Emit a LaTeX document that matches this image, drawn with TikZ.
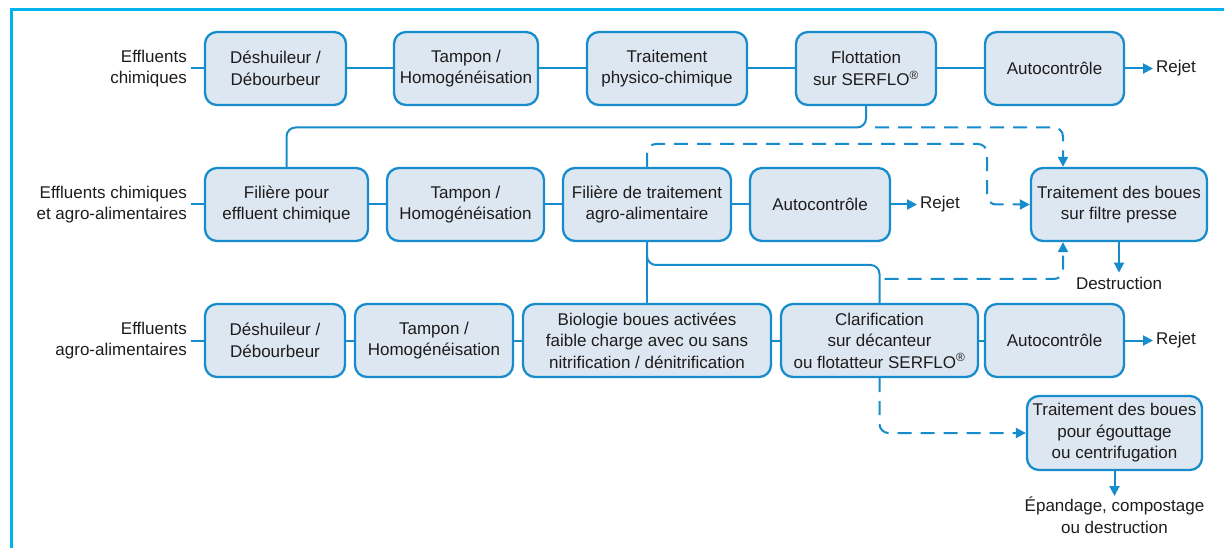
\documentclass[tikz,border=0pt]{standalone}
\usepackage{fontspec}
\setmainfont{Liberation Sans}
\usepackage{tikz}
\usepackage{xcolor}
\usetikzlibrary{arrows.meta}
\definecolor{cadre}{RGB}{0,178,235}
\definecolor{trait}{RGB}{22,140,205}
\definecolor{fond}{RGB}{221,231,241}
\definecolor{texte}{RGB}{30,28,28}
\tikzset{
etape/.style={draw=trait,fill=fond,line width=2.3pt,rounded corners=12pt,
  align=center,minimum height=73pt,inner sep=2pt,text=texte},
lien/.style={draw=trait,line width=2pt,rounded corners=9pt},
fleche/.style={lien,-{Triangle[length=10pt,width=10pt]}},
pointille/.style={fleche,dash pattern=on 14pt off 9pt},
entree/.style={text=texte,align=right,anchor=east,inner sep=4pt},
sortie/.style={text=texte,align=center,inner sep=3pt}}

\begin{document}
\begin{tikzpicture}[x=1pt,y=-1pt,font=\fontsize{17}{21.5}\selectfont]
\useasboundingbox (0,0) rectangle (1224,548);
\draw[cadre,line width=3pt] (1224,9.5)--(11,9.5)--(11,548);

\node[entree] (e1) at (191,68.5) {Effluents\\chimiques};
\node[etape,minimum width=141pt] (d1) at (275.5,68.5) {Déshuileur /\\Débourbeur};
\node[etape,minimum width=144pt] (t1) at (466,68.5) {Tampon /\\Homogénéisation};
\node[etape,minimum width=160pt] (p1) at (667,68.5) {Traitement\\physico-chimique};
\node[etape,minimum width=140pt] (f1) at (866,68.5) {Flottation\\sur SERFLO\textsuperscript{®}};
\node[etape,minimum width=139pt] (a1) at (1054.5,68.5) {Autocontrôle};
\node[sortie,anchor=west] (r1) at (1153,68.5) {Rejet};

\node[entree] (e2) at (191,204.5) {Effluents chimiques\\et agro-alimentaires};
\node[etape,minimum width=163pt] (fc2) at (286.5,204.5) {Filière pour\\effluent chimique};
\node[etape,minimum width=157pt] (t2) at (465.5,204.5) {Tampon /\\Homogénéisation};
\node[etape,minimum width=168pt] (fa2) at (647,204.5) {Filière de traitement\\agro-alimentaire};
\node[etape,minimum width=140pt] (a2) at (820,204.5) {Autocontrôle};
\node[sortie,anchor=west] (r2) at (917,204.5) {Rejet};
\node[etape,minimum width=176pt] (fp) at (1119,204.5) {Traitement des boues\\sur filtre presse};
\node[sortie,inner sep=4pt] (destr) at (1119,283) {Destruction};

\node[entree] (e3) at (191,340.5) {Effluents\\agro-alimentaires};
\node[etape,minimum width=140pt] (d3) at (275,340.5) {Déshuileur /\\Débourbeur};
\node[etape,minimum width=158pt] (t3) at (434,340.5) {Tampon /\\Homogénéisation};
\node[etape,minimum width=248pt] (b3) at (647,340.5) {Biologie boues activées\\faible charge avec ou sans\\nitrification / dénitrification};
\node[etape,minimum width=197pt] (c3) at (879.5,340.5) {Clarification\\sur décanteur\\ou flotatteur SERFLO\textsuperscript{®}};
\node[etape,minimum width=139pt] (a3) at (1054.5,340.5) {Autocontrôle};
\node[sortie,anchor=west] (r3) at (1153,340.5) {Rejet};
\node[etape,minimum width=175pt,minimum height=74pt] (eg) at (1114.5,433) {Traitement des boues\\pour égouttage\\ou centrifugation};
\node[sortie,anchor=north,inner sep=1pt] (epand) at (1114.5,496) {Épandage, compostage\\ou destruction};

\draw[lien] (e1)--(d1)--(t1)--(p1)--(f1)--(a1);
\draw[fleche] (a1)--(r1);
\draw[lien] (e2)--(fc2)--(t2)--(fa2)--(a2);
\draw[fleche] (a2)--(r2);
\draw[lien] (e3)--(d3)--(t3)--(b3)--(c3)--(a3);
\draw[fleche] (a3)--(r3);

\draw[lien] (f1.south)--(f1.south |- 0,127.5) -| (fc2.north);
\draw[pointille,dash phase=14pt] (f1.south |- 0,127.5) -| ([xshift=-56pt]fp.north);
\draw[pointille] (fa2.north) |- (987,144) |- (fp.west);
\draw[lien] (fa2.south)--(b3.north);
\draw[lien] (fa2.south) |- (c3.north |- 0,265)--(c3.north);
\draw[pointille,dash phase=18pt] (c3.north |- 0,279) -| ([xshift=-56pt]fp.south);
\draw[pointille] (c3.south) |- (eg.west);
\draw[fleche] (fp.south)--(destr.north);
\draw[fleche] (eg.south)--(epand.north);
\end{tikzpicture}
\end{document}
